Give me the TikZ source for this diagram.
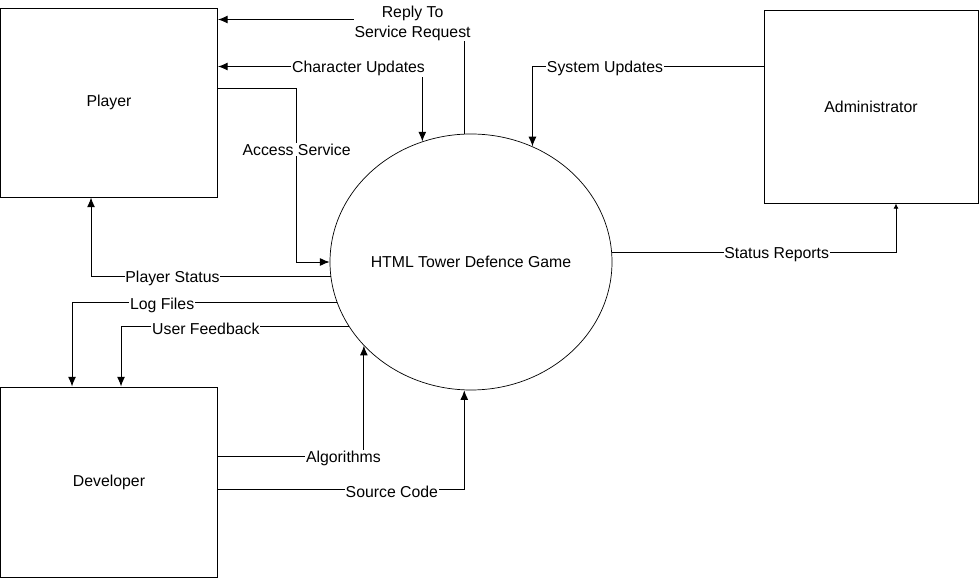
\documentclass[tikz,border=0pt]{standalone}
\usepackage{fontspec}
\setmainfont{Liberation Sans}
\usetikzlibrary{arrows.meta,shapes.geometric}
\tikzset{
	entity/.style={draw,line width=0.55pt,rectangle,inner sep=0pt},
	flow/.style={line width=0.55pt,-{Latex[length=5.5pt,width=4.5pt]}},
	lbl/.style={fill=white,inner sep=0.5pt,align=center,yshift=-0.04cm}
}

\begin{document}
\begin{tikzpicture}[font=\fontsize{9}{11}\selectfont]
		\useasboundingbox (0,0) rectangle (19.6,-11.56);
		\node[entity,minimum width=4.34cm,minimum height=3.78cm] (player) at (2.18,-2.05) {Player};
		\node[entity,minimum width=4.28cm,minimum height=3.86cm] (admin) at (17.42,-2.13) {Administrator};
		\node[entity,minimum width=4.34cm,minimum height=3.8cm] (developer) at (2.18,-9.64) {Developer};
		\node[draw,ellipse,line width=0.4pt,inner sep=0pt,minimum width=5.64cm,minimum height=5.12cm] (game) at (9.42,-5.24) {\makebox[0pt]{HTML Tower Defence Game}};
		
		\draw[flow] (game.93) |- ([yshift=-0.24cm]player.north east) node[lbl,pos=0.605,yshift=-0.04cm] {Reply To\\Service Request};
		\draw[flow,{Latex[length=5.5pt,width=4.5pt]}-{Latex[length=5.5pt,width=4.5pt]}] (game.112) |- ([yshift=-1.18cm]player.north east) node[lbl,pos=0.656] {Character Updates};
		\draw[flow] ([yshift=-1.62cm]player.north east) -| ([xshift=-0.66cm]game.west) node[lbl,pos=0.67] {Access Service} -- (game.west);
		\draw[flow] ([yshift=-1.14cm]admin.north west) -| (game.62) node[lbl,pos=0.343] {System Updates};
		\draw[flow,-{Latex[length=3pt,width=3pt]}] (game.4) -| ([xshift=0.5cm]admin.south) node[lbl,pos=0.29] {Status Reports};
		\draw[flow] (game.186) -| ([xshift=1.82cm]player.south west) node[lbl,pos=0.33] {Player Status};
		\draw[flow] (game.197) -| ([xshift=1.44cm]developer.north west) node[lbl,pos=0.33] {Log Files};
		\draw[flow] (game.208) -| ([xshift=2.42cm]developer.north west) node[lbl,pos=0.314] {User Feedback};
		\draw[flow] ([yshift=-1.4cm]developer.north east) -| (game.218) node[lbl,pos=0.43] {Algorithms};
		\draw[flow] ([yshift=-2.06cm]developer.north east) -| (game.267) node[lbl,pos=0.353] {Source Code};
\end{tikzpicture}
\end{document}
